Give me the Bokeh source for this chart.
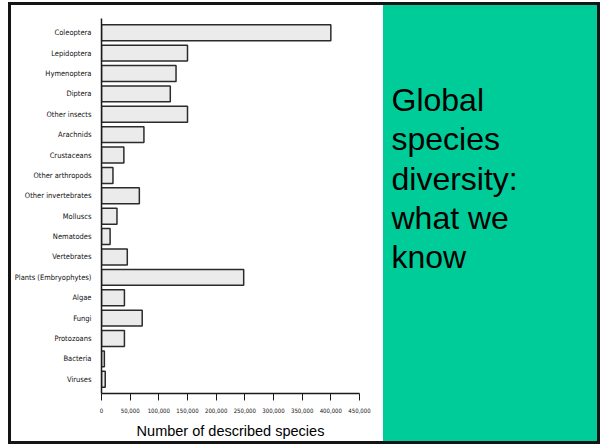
from bokeh.plotting import figure
from bokeh.layouts import row
from bokeh.models import FactorRange, Range1d, NumeralTickFormatter, FixedTicker
from bokeh.core.properties import value
from bokeh.embed import file_html
from bokeh.resources import INLINE

# ---- data ----
groups = ["Coleoptera", "Lepidoptera", "Hymenoptera", "Diptera", "Other insects",
          "Arachnids", "Crustaceans", "Other arthropods", "Other invertebrates",
          "Molluscs", "Nematodes", "Vertebrates", "Plants (Embryophytes)", "Algae",
          "Fungi", "Protozoans", "Bacteria", "Viruses"]
species = [400000, 150000, 130000, 120000, 150000,
           74000, 39000, 20000, 66000,
           27000, 15000, 45000, 248000, 40000,
           71000, 40000, 5000, 6500]
x_ticks = [0, 50000, 100000, 150000, 200000, 250000, 300000, 350000, 400000, 450000]
x_label = "Number of described species"
title_lines = ["Global", "species", "diversity:", "what we", "know"]

NARROW = "DejaVu Sans Condensed"
SANS = "Liberation Sans"
GREEN = "#00CC99"

# ---- bar chart ----
p = figure(width=372, height=436,
           y_range=FactorRange(factors=groups[::-1], range_padding=0.2,
                               range_padding_units="absolute"),
           x_range=Range1d(0, 450000),
           output_backend="svg", toolbar_location=None,
           min_border_left=90, min_border_right=24, min_border_top=13, min_border_bottom=47,
           background_fill_color="white", border_fill_color="white",
           outline_line_color=None)
p.hbar(y=groups, right=species, left=0, height=0.78,
       fill_color="#ebebeb", line_color="#2b2b2b", line_width=1.5)
p.grid.visible = False

p.yaxis.major_tick_line_color = None
p.yaxis.minor_tick_line_color = None
p.yaxis.axis_line_width = 1.5
p.yaxis.axis_line_color = "#1a1a1a"
p.yaxis.major_label_standoff = 4
p.yaxis.major_label_text_font = NARROW
p.yaxis.major_label_text_font_size = "7.5px"
p.yaxis.major_label_text_color = "#111111"

p.xaxis.ticker = FixedTicker(ticks=x_ticks)
p.xaxis.formatter = NumeralTickFormatter(format="0,0")
p.xaxis.axis_line_width = 1.5
p.xaxis.axis_line_color = "#1a1a1a"
p.xaxis.major_tick_in = 0
p.xaxis.major_tick_out = 7
p.xaxis.major_tick_line_color = "#1a1a1a"
p.xaxis.minor_tick_line_color = None
p.xaxis.major_label_standoff = 7
p.xaxis.major_label_text_font = NARROW
p.xaxis.major_label_text_font_size = "6px"
p.xaxis.major_label_text_color = "#111111"
p.xaxis.axis_label = x_label
p.xaxis.axis_label_text_font = SANS
p.xaxis.axis_label_text_font_size = "14.5px"
p.xaxis.axis_label_text_font_style = "normal"
p.xaxis.axis_label_text_color = "black"
p.xaxis.axis_label_standoff = 7

# ---- green title panel ----
q = figure(width=214, height=436,
           x_range=Range1d(0, 214), y_range=Range1d(7.481, -2.086),
           x_axis_location=None, y_axis_location=None,
           output_backend="svg", toolbar_location=None,
           min_border_left=0, min_border_right=0, min_border_top=13, min_border_bottom=47,
           background_fill_color=None, border_fill_color=None,
           outline_line_color=None,
           styles={"background-color": GREEN})
q.grid.visible = False
TEXT_LEFT = 8
q.text(x=[TEXT_LEFT] * len(title_lines), y=list(range(len(title_lines))), text=title_lines,
       text_font=value(SANS), text_font_size="32px", text_color="black",
       text_baseline="alphabetic", text_align="left")

layout = row(p, q, margin=(2, 0, 0, 8),
             styles={"border": "3px solid #141414"})

open("out.html", "w").write(file_html(layout, INLINE))
